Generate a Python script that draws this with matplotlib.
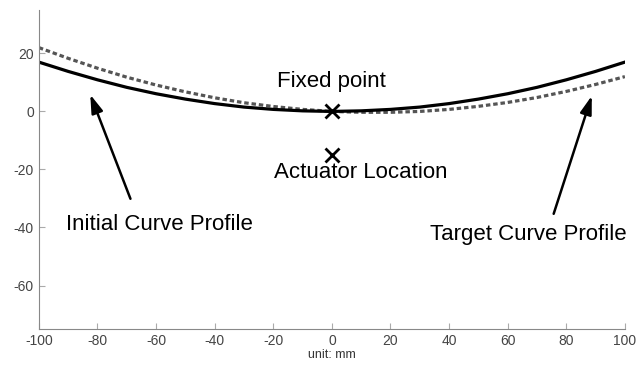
import matplotlib
matplotlib.use('Agg')
import matplotlib.pyplot as plt

plt.rcParams['font.family'] = ['Liberation Sans', 'DejaVu Sans']
plt.rcParams['axes.unicode_minus'] = False

# 曲线数据 (单位 mm)
x_mm = [-100, -90, -80, -70, -60, -50, -40, -30, -20, -10, 0,
        10, 20, 30, 40, 50, 60, 70, 80, 90, 100]
initial_profile = [17.0, 13.8, 10.9, 8.3, 6.1, 4.25, 2.7, 1.5, 0.7, 0.2, 0.0,
                   0.2, 0.7, 1.5, 2.7, 4.25, 6.1, 8.3, 10.9, 13.8, 17.0]
target_profile = [22.0, 18.3, 14.9, 11.8, 9.1, 6.75, 4.7, 3.0, 1.7, 0.7, 0.0,
                  -0.3, -0.3, 0.0, 0.7, 1.75, 3.1, 4.8, 6.9, 9.3, 12.0]

# 固定点与执行器位置
fixed_point = (0, 0)
actuator_point = (0, -15)

x_ticks = [-100, -80, -60, -40, -20, 0, 20, 40, 60, 80, 100]
y_ticks = [-60, -40, -20, 0, 20]

fig = plt.figure(figsize=(6.37, 3.66), dpi=100)
ax = fig.add_axes([0.061, 0.101, 0.92, 0.872])

ax.plot(x_mm, target_profile, color='#555555', lw=2.3, ls=(0, (1.4, 0.9)))
ax.plot(x_mm, initial_profile, color='black', lw=2.3)

ax.plot(*fixed_point, marker='x', color='black', ms=10, mew=2)
ax.plot(*actuator_point, marker='x', color='black', ms=10, mew=2)

ax.text(0, 10.3, 'Fixed point', ha='center', va='center', fontsize=16)
ax.text(10, -21, 'Actuator Location', ha='center', va='center', fontsize=16)
ax.text(-59, -38.8, 'Initial Curve Profile', ha='center', va='center', fontsize=16)
ax.text(67, -42.4, 'Target Curve Profile', ha='center', va='center', fontsize=16)

arrow = dict(arrowstyle='-|>,head_length=1.1,head_width=0.35', color='black', lw=1.8)
ax.annotate('', xy=(-82.8, 6.7), xytext=(-68.4, -31), arrowprops=arrow)
ax.annotate('', xy=(89, 6.3), xytext=(75.4, -36.2), arrowprops=arrow)

ax.set_xlim(-100, 100)
ax.set_ylim(-75, 35)
ax.set_xticks(x_ticks)
ax.set_yticks(y_ticks)
ax.set_xlabel('unit: mm', fontsize=9, color='#333333', labelpad=1)

for s in ['top', 'right']:
    ax.spines[s].set_visible(False)
for s in ['left', 'bottom']:
    ax.spines[s].set_color('#888888')
ax.tick_params(direction='in', length=4, color='#aaaaaa', labelsize=10,
               labelcolor='#444444')

plt.savefig('out.png', dpi=100)
